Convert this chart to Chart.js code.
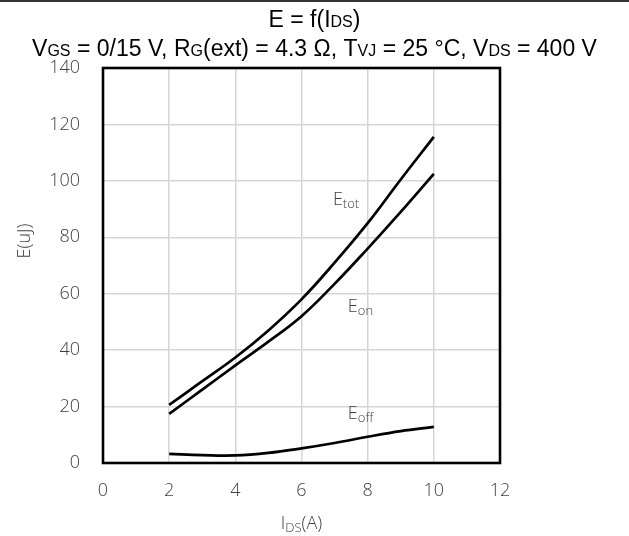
<!DOCTYPE html>
<html>
<head>
<meta charset="utf-8">
<script src="https://cdn.jsdelivr.net/npm/chart.js@4.4.1/dist/chart.umd.min.js"></script>
<style>
  html, body { margin: 0; padding: 0; background: #fff; }
  #wrap { position: relative; width: 629px; height: 536px; overflow: hidden; }
  #topline { position: absolute; left: 0; top: 0; width: 629px; height: 2px; background: #333; }
  .ttl { position: absolute; left: 0; width: 629px; text-align: center; font-family: "Liberation Sans", Arial, sans-serif; font-size: 23px; line-height: 26px; color: #000; white-space: nowrap; }
  .ttl .s { font-size: 16px; }
  #t1 { top: 6px; }
  #t2 { top: 35px; }
  #box { position: absolute; left: 0; top: 0; width: 629px; height: 536px; }
</style>
</head>
<body>
<div id="wrap">
  <div id="box"><canvas id="EGraph" width="629" height="536"></canvas></div>
  <div id="topline"></div>
  <div class="ttl" id="t1">E = f(I<span class="s">DS</span>)</div>
  <div class="ttl" id="t2">V<span class="s">GS</span> = 0/15 V, R<span class="s">G</span>(ext) = 4.3 Ω, T<span class="s">VJ</span> = 25 °C, V<span class="s">DS</span> = 400 V</div>
</div>
<script>
// E = f(IDS)

const currentA = [2, 3, 4, 5, 6, 7, 8, 9, 10]
const eTot = [20.6, 29, 37.4, 47, 58, 71, 85, 100.5, 115.6]
const eOn = [17.4, 26, 34.6, 43, 52, 63.5, 76, 89, 102.5]
const eOff = [3.2, 2.8, 2.7, 3.6, 5.2, 7.1, 9.3, 11.3, 12.8]

const xTicks = [0, 2, 4, 6, 8, 10, 12]
const yTicks = [0, 20, 40, 60, 80, 100, 120, 140]

const curveLabels = [
    { main: 'E', sub: 'tot', x: 6.95, y: 91.5 },
    { main: 'E', sub: 'on', x: 7.4, y: 53.5 },
    { main: 'E', sub: 'off', x: 7.4, y: 15.5 }
]

const lightFont = '"Open Sans", "Noto Sans", sans-serif'
const textGray = '#404040'

const toPoints = ys => currentA.map((x, i) => ({ x: x, y: ys[i] }))

const lineStyle = {
    borderColor: '#000',
    borderWidth: 2.7,
    pointRadius: 0,
    fill: false,
    tension: 0.4
}

const drawSubText = (ctx, parts, x, y, align) => {
    let total = 0
    parts.forEach(p => { ctx.font = p.font; total += ctx.measureText(p.text).width })
    let cx = align === 'center' ? x - total / 2 : x
    parts.forEach(p => {
        ctx.font = p.font
        ctx.fillText(p.text, cx, y + (p.dy || 0))
        cx += ctx.measureText(p.text).width
    })
}

const extras = {
    id: 'extras',
    afterDraw(chart) {
        const { ctx, chartArea: a, scales } = chart
        ctx.save()
        // frame
        ctx.strokeStyle = '#000'
        ctx.lineWidth = 2.6
        ctx.strokeRect(a.left, a.top, a.right - a.left, a.bottom - a.top)

        ctx.fillStyle = textGray
        ctx.textAlign = 'left'
        ctx.textBaseline = 'alphabetic'
        curveLabels.forEach(l => {
            const px = scales.x.getPixelForValue(l.x)
            const py = scales.y.getPixelForValue(l.y)
            drawSubText(ctx, [
                { text: l.main, font: '300 18px ' + lightFont },
                { text: l.sub, font: '300 13px ' + lightFont, dy: 3 }
            ], px, py, 'left')
        })

        // x axis title with subscript
        drawSubText(ctx, [
            { text: 'I', font: '300 18px ' + lightFont },
            { text: 'DS', font: '300 13px ' + lightFont, dy: 3 },
            { text: '(A)', font: '300 18px ' + lightFont }
        ], (a.left + a.right) / 2, 529, 'center')

        // y axis title, rotated
        ctx.translate(25, 241)
        ctx.rotate(-Math.PI / 2)
        ctx.textAlign = 'center'
        ctx.textBaseline = 'middle'
        ctx.font = '300 18px ' + lightFont
        ctx.fillText('E(uJ)', 0, 0)
        ctx.restore()
    }
}

const ctx = document.getElementById('EGraph')
new Chart(ctx, {
    type: 'line',
    data: {
        datasets: [
            { ...lineStyle, label: 'Etot', data: toPoints(eTot) },
            { ...lineStyle, label: 'Eon', data: toPoints(eOn) },
            { ...lineStyle, label: 'Eoff', data: toPoints(eOff) }
        ]
    },
    options: {
        responsive: false,
        animation: false,
        devicePixelRatio: 1,
        layout: { padding: { left: 0, right: 129, top: 68, bottom: 0 } },
        plugins: { legend: { display: false }, tooltip: { enabled: false } },
        scales: {
            x: {
                type: 'linear',
                min: 0, max: 12,
                afterBuildTicks: s => { s.ticks = xTicks.map(v => ({ value: v })) },
                afterFit: s => { s.height = 73 },
                grid: { color: '#d6d6d6', lineWidth: 1.5, drawTicks: false },
                border: { display: false },
                ticks: { padding: 17, color: textGray, font: { family: lightFont, size: 18, weight: 300 } }
            },
            y: {
                min: 0, max: 140,
                afterBuildTicks: s => { s.ticks = yTicks.map(v => ({ value: v })) },
                afterFit: s => { s.width = 103 },
                grid: { color: '#d6d6d6', lineWidth: 1.5, drawTicks: false },
                border: { display: false },
                ticks: { padding: 23, color: textGray, font: { family: lightFont, size: 18, weight: 300 } }
            }
        }
    },
    plugins: [extras]
})
</script>
</body>
</html>
